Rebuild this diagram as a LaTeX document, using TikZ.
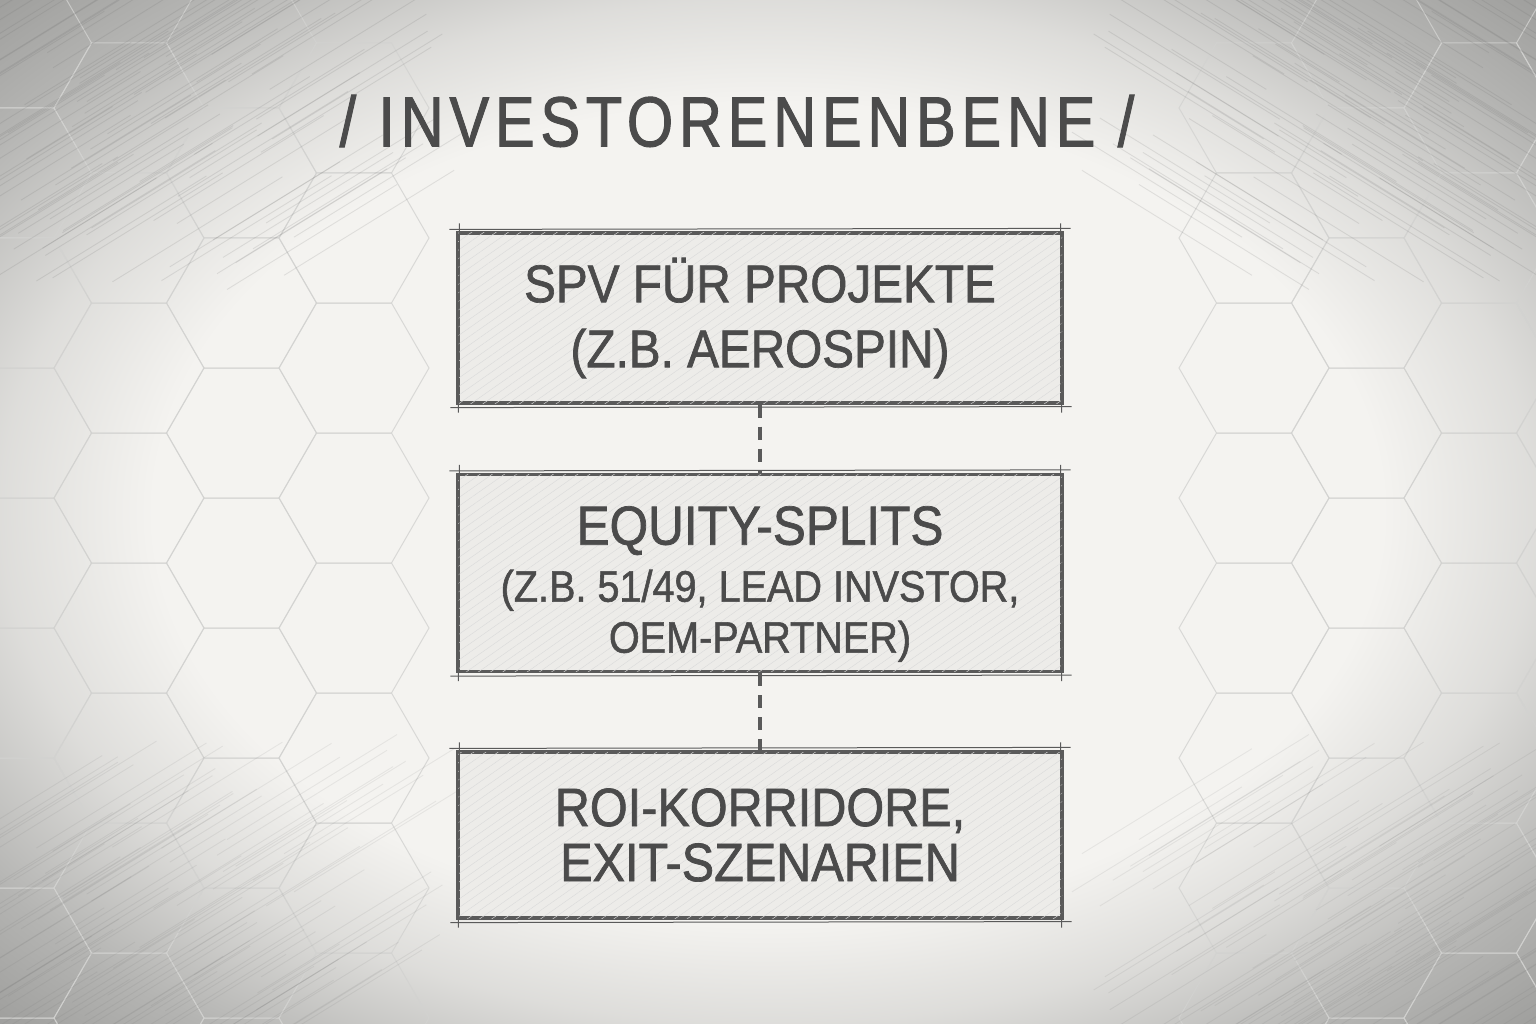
\documentclass[tikz,border=0pt]{standalone}
\usepackage{fontspec}
\setmainfont{Liberation Sans}[FakeStretch=0.9,FakeBold=1.3]
\newfontfamily\titlefont{Liberation Sans}[FakeStretch=0.84,LetterSpace=8,FakeBold=1.3]
\usetikzlibrary{patterns.meta,calc}
\definecolor{paper}{HTML}{F4F3F0}
\definecolor{vig}{HTML}{B4B4B2}
\definecolor{vigdark}{HTML}{979795}
\definecolor{ink}{HTML}{4B4B4B}
\definecolor{boxline}{HTML}{5A5A5A}
\definecolor{hexline}{HTML}{D2D2D0}
\pgfdeclareradialshading{vign}{\pgfpoint{0bp}{0bp}}{color(0bp)=(paper); color(20bp)=(paper); color(25bp)=(paper!65!vig); color(31bp)=(vig); color(37bp)=(vigdark); color(50bp)=(vigdark)}
\tikzset{
  sketchbox/.style={draw=boxline, line width=3.2pt, fill=paper!97!black,
    postaction={pattern={Lines[angle=35,distance=7pt,line width=0.45pt]}, pattern color=gray!28},
    align=center, text=ink, inner sep=0pt},
  boxtext/.style={align=center, text=ink, inner sep=0pt},
  linkline/.style={draw=boxline, line width=3.2pt, dash pattern=on 13pt off 9pt},
  hexcell/.style={draw=hexline, line width=1pt},
  titletext/.style={text=ink, font=\titlefont\fontsize{71}{80}\selectfont}
}
\newcommand{\overshoot}[1]{%
  \draw[boxline, line width=1pt] ($(#1.north west)+(-7,-2)$) -- ($(#1.north east)+(7,-3)$);
  \draw[boxline, line width=1pt] ($(#1.south west)+(-6,3)$) -- ($(#1.south east)+(8,2)$);
  \draw[boxline, line width=1pt] ($(#1.north west)+(3,-8)$) -- ($(#1.south west)+(2,8)$);
  \draw[boxline, line width=1pt] ($(#1.north east)+(-3,-8)$) -- ($(#1.south east)+(-2,8)$);
}
\begin{document}
\begin{tikzpicture}[x=1pt,y=-1pt]
  \useasboundingbox (0,0) rectangle (1536,1024);
  \shade[shading=vign] (0,0) rectangle (1536,1024);
  % honeycomb at the sides
  \foreach \i in {-1,0,1,2,10,11,12,13}{
    \foreach \j in {-1,0,...,7}{
      \pgfmathsetmacro{\cx}{129+112.5*\i}
      \pgfmathsetmacro{\cy}{238+130*\j-65*mod(\i+10,2)}
      \draw[hexcell, opacity=0.8] (\cx+75,\cy) -- (\cx+37.5,\cy+65) -- (\cx-37.5,\cy+65)
        -- (\cx-75,\cy) -- (\cx-37.5,\cy-65) -- (\cx+37.5,\cy-65) -- cycle;
    }
  }
  % pencil streaks in the corners
  \pgfmathsetseed{7}
  \foreach \k in {1,...,90}{
    \pgfmathsetmacro{\sx}{rnd*380-80}
    \pgfmathsetmacro{\sy}{rnd*250-20}
    \draw[gray!80!black, opacity=0.15, line width=0.9pt] (\sx,\sy+60) -- (\sx+170,\sy-45);
    \draw[gray!80!black, opacity=0.15, line width=0.9pt] (1536-\sx,\sy+60) -- (1536-\sx-170,\sy-45);
    \draw[gray!80!black, opacity=0.10, line width=0.9pt] (\sx,1024-\sy+45) -- (\sx+170,1024-\sy-60);
    \draw[gray!80!black, opacity=0.10, line width=0.9pt] (1536-\sx-170,1024-\sy+45) -- (1536-\sx,1024-\sy-60);
  }

  \node[titletext] (title) at (737,121) {/ INVESTORENENBENE /};

  \node[sketchbox, minimum width=604pt, minimum height=170pt,
        font=\fontsize{53}{65}\selectfont] (spv) at (760,318)
    {SPV FÜR PROJEKTE\\ (Z.B. AEROSPIN)};
  \node[sketchbox, minimum width=604pt, minimum height=197pt] (eq) at (760,573) {};
  \node[boxtext, font=\fontsize{44}{51}\selectfont] (eqtext) at (760,584)
    {{\fontsize{55}{60}\selectfont EQUITY-SPLITS}\\[6pt] (Z.B. 51/49, LEAD INVSTOR,\\ OEM-PARTNER)};
  \node[sketchbox, minimum width=604pt, minimum height=166pt,
        font=\fontsize{54}{55}\selectfont] (roi) at (760,835)
    {ROI-KORRIDORE,\\ EXIT-SZENARIEN};

  \overshoot{spv}
  \overshoot{eq}
  \overshoot{roi}

  \draw[linkline] (spv.south) -- (eq.north);
  \draw[linkline] (eq.south) -- (roi.north);
\end{tikzpicture}
\end{document}
